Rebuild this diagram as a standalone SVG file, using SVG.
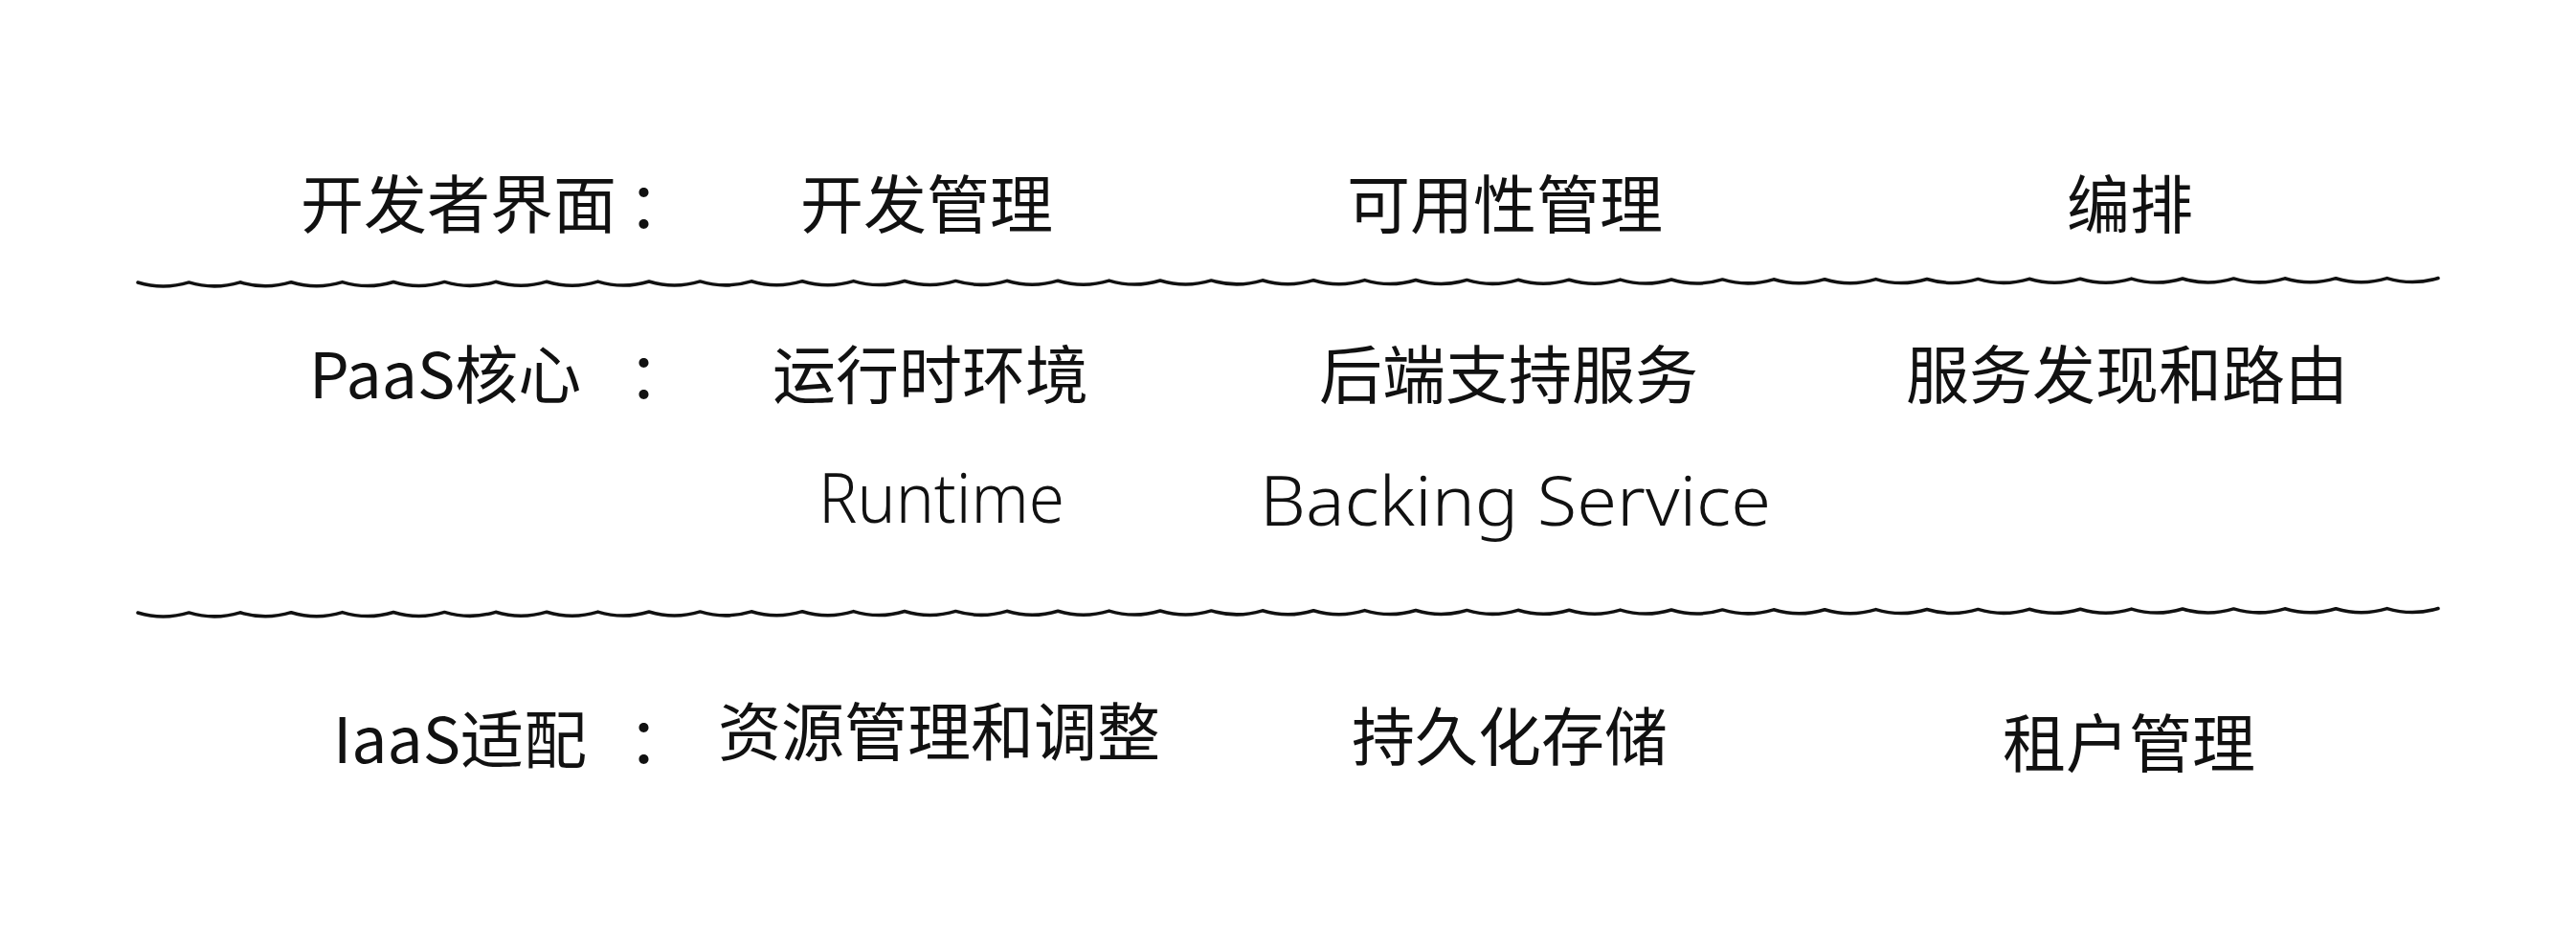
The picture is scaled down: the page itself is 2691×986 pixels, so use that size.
<svg xmlns="http://www.w3.org/2000/svg" width="2691" height="986" viewBox="0 0 2691 986">
<style>
.t{font-family:"Noto Sans CJK SC","Noto Sans",sans-serif;font-size:66px;fill:#111;font-weight:400}
.en{font-family:"Noto Sans","Noto Sans CJK SC",sans-serif;font-size:72px;fill:#111;font-weight:300}
.wave{fill:none;stroke:#111;stroke-width:3.5;stroke-linecap:round;stroke-linejoin:round}
</style>
<rect width="2691" height="986" fill="#fff"/>
<g id="connectors">
<path id="divider-1" class="wave" d="M144 295 q26.7 8 53.4 -0.1 q26.7 8 53.4 -0.1 q26.7 8 53.4 -0.1 q26.7 8 53.4 -0.1 q26.7 8 53.4 -0.1 q26.7 8 53.4 -0.1 q26.7 8 53.4 -0.1 q26.7 8 53.4 -0.1 q26.7 8 53.4 -0.1 q26.7 8 53.4 -0.1 q26.7 8 53.4 -0.1 q26.7 8 53.4 -0.1 q26.7 8 53.4 -0.1 q26.7 8 53.4 -0.1 q26.7 8 53.4 -0.1 q26.7 8 53.4 -0.1 q26.7 8 53.4 -0.1 q26.7 8 53.4 -0.1 q26.7 8 53.4 -0.1 q26.7 8 53.4 -0.1 q26.7 8 53.4 -0.1 q26.7 8 53.4 -0.1 q26.7 8 53.4 -0.1 q26.7 8 53.4 -0.1 q26.7 8 53.4 -0.1 q26.7 8 53.4 -0.1 q26.7 8 53.4 -0.1 q26.7 8 53.4 -0.1 q26.7 8 53.4 -0.1 q26.7 8 53.4 -0.1 q26.7 8 53.4 -0.1 q26.7 8 53.4 -0.1 q26.7 8 53.4 -0.1 q26.7 8 53.4 -0.1 q26.7 8 53.4 -0.1 q26.7 8 53.4 -0.1 q26.7 8 53.4 -0.1 q26.7 8 53.4 -0.1 q26.7 8 53.4 -0.1 q26.7 8 53.4 -0.1 q26.7 8 53.4 -0.1 q26.7 8 53.4 -0.1 q26.7 8 53.4 -0.1 q26.7 8 53.4 -0.1 q26.7 8 53.4 -0.1"/>
<path id="divider-2" class="wave" d="M144 640 q26.7 8 53.4 -0.1 q26.7 8 53.4 -0.1 q26.7 8 53.4 -0.1 q26.7 8 53.4 -0.1 q26.7 8 53.4 -0.1 q26.7 8 53.4 -0.1 q26.7 8 53.4 -0.1 q26.7 8 53.4 -0.1 q26.7 8 53.4 -0.1 q26.7 8 53.4 -0.1 q26.7 8 53.4 -0.1 q26.7 8 53.4 -0.1 q26.7 8 53.4 -0.1 q26.7 8 53.4 -0.1 q26.7 8 53.4 -0.1 q26.7 8 53.4 -0.1 q26.7 8 53.4 -0.1 q26.7 8 53.4 -0.1 q26.7 8 53.4 -0.1 q26.7 8 53.4 -0.1 q26.7 8 53.4 -0.1 q26.7 8 53.4 -0.1 q26.7 8 53.4 -0.1 q26.7 8 53.4 -0.1 q26.7 8 53.4 -0.1 q26.7 8 53.4 -0.1 q26.7 8 53.4 -0.1 q26.7 8 53.4 -0.1 q26.7 8 53.4 -0.1 q26.7 8 53.4 -0.1 q26.7 8 53.4 -0.1 q26.7 8 53.4 -0.1 q26.7 8 53.4 -0.1 q26.7 8 53.4 -0.1 q26.7 8 53.4 -0.1 q26.7 8 53.4 -0.1 q26.7 8 53.4 -0.1 q26.7 8 53.4 -0.1 q26.7 8 53.4 -0.1 q26.7 8 53.4 -0.1 q26.7 8 53.4 -0.1 q26.7 8 53.4 -0.1 q26.7 8 53.4 -0.1 q26.7 8 53.4 -0.1 q26.7 8 53.4 -0.1"/>
</g>
<g id="row-developer">
<g id="label-developer"><text class="t" x="314" y="238">开发者界面<tspan x="656">：</tspan></text></g>
<g id="node-dev-mgmt"><text class="t" x="836" y="238">开发管理</text></g>
<g id="node-availability"><text class="t" x="1407" y="238">可用性管理</text></g>
<g id="node-orchestration"><text class="t" x="2159" y="238">编排</text></g>
</g>
<g id="row-paas">
<g id="label-paas"><text class="t" x="323" y="416">PaaS核心<tspan x="656">：</tspan></text></g>
<g id="node-runtime"><text class="t" x="807" y="416">运行时环境</text><text class="en" x="855" y="546" textLength="257" lengthAdjust="spacingAndGlyphs">Runtime</text></g>
<g id="node-backing"><text class="t" x="1378" y="416">后端支持服务</text><text class="en" x="1316" y="549" textLength="534" lengthAdjust="spacingAndGlyphs">Backing Service</text></g>
<g id="node-discovery"><text class="t" x="1991" y="416">服务发现和路由</text></g>
</g>
<g id="row-iaas">
<g id="label-iaas"><text class="t" x="348" y="797">IaaS适配<tspan x="656">：</tspan></text></g>
<g id="node-resource"><text class="t" x="750" y="789">资源管理和调整</text></g>
<g id="node-storage"><text class="t" x="1412" y="794">持久化存储</text></g>
<g id="node-tenant"><text class="t" x="2092" y="801">租户管理</text></g>
</g>
</svg>
